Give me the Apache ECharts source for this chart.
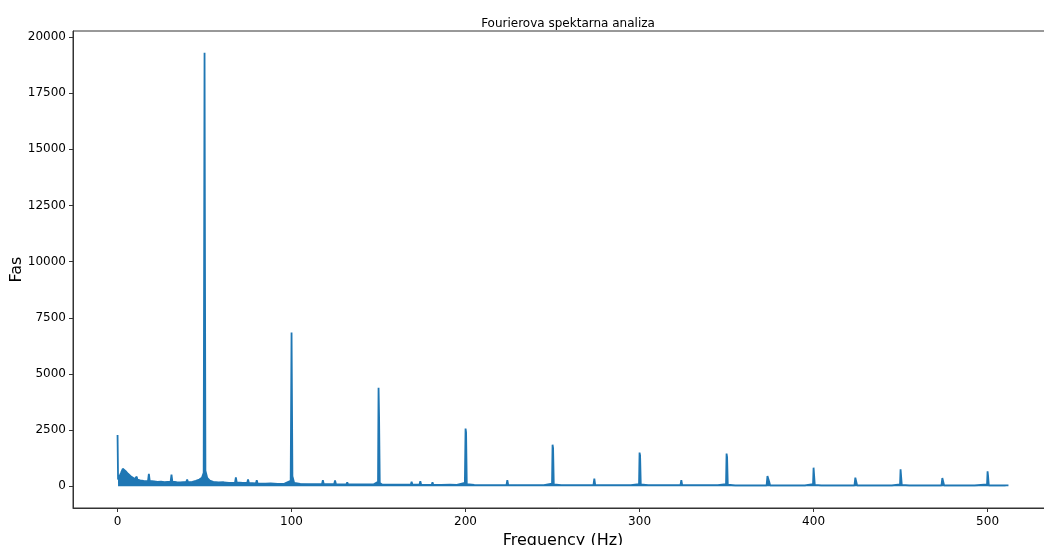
<!DOCTYPE html>
<html>
<head>
<meta charset="utf-8">
<script src="https://cdn.jsdelivr.net/npm/echarts@6/dist/echarts.min.js"></script>
<style>
html,body{margin:0;padding:0;background:#fff;overflow:hidden;}
#chart{width:1044px;height:545px;}
</style>
</head>
<body>
<div id="chart"></div>
<script>
// Frequencies (Hz) and spectral amplitudes (Fas)
const freqs = [
  0, 0.3, 1, 2, 3, 4, 5, 6, 7, 8, 9, 10, 10.6, 11, 11.4, 13, 15, 17.5, 18, 18.5, 21, 23, 25, 27, 30.5, 31, 31.5, 34, 36, 39.5, 40, 40.5, 43, 45, 47, 48.5, 49.5,
  50, 50.5, 51.5, 53, 55, 58, 61, 64, 67.5, 68, 68.5, 72, 74.5, 75, 75.5, 79.5, 80, 80.5, 85, 88, 92, 96, 99.5,
  100, 100.5, 101.5, 105, 110, 117.5, 118, 118.5, 122, 124.5, 125, 125.5, 131.5, 132, 132.5, 138, 143, 147, 149.7,
  150, 150.3, 150.7, 152, 157, 162, 168.5, 169, 169.5, 173.5, 174, 174.5, 180.5, 181, 181.5, 186, 191, 195, 199.6,
  200, 200.3, 200.7, 205, 210, 218.5, 219, 219.5, 223.5, 224, 224.5, 230, 235, 240, 245, 249.7,
  250, 250.3, 250.7, 255, 260, 268.5, 269, 269.5, 273.5, 274, 274.5, 280, 285, 290, 295, 299.7,
  300, 300.3, 300.7, 305, 310, 318.5, 319, 319.5, 323.5, 324, 324.5, 330, 335, 340, 345, 349.7,
  350, 350.3, 350.7, 355, 360, 368.5, 369, 369.5, 373, 373.5, 374.5, 375, 381, 381.5, 382, 386, 391, 395, 399.7,
  400, 400.3, 400.7, 404.5, 405, 405.5, 410, 415, 418.5, 419, 419.5, 423.5, 424, 424.6, 425, 430, 435, 440, 445, 449.7,
  450, 450.3, 450.7, 455, 460, 468.5, 469, 469.5, 473.5, 474, 474.6, 475, 480, 485, 490, 492.5, 493, 493.5, 499.7,
  500, 500.3, 500.7, 504.5, 505, 505.5, 510, 512
];
const amps = [
  2280, 300, 350, 600, 780, 720, 650, 560, 480, 420, 380, 330, 330, 430, 300, 260, 240, 230, 560, 240, 220, 200, 210, 190, 210, 520, 210, 190, 180, 200, 300, 190, 200, 240, 300, 380, 600,
  19300, 700, 380, 250, 200, 170, 180, 150, 160, 400, 170, 150, 150, 310, 150, 130, 270, 130, 120, 130, 110, 120, 250,
  6850, 450, 150, 110, 100, 100, 270, 100, 100, 100, 260, 100, 90, 180, 90, 80, 90, 80, 200,
  4390, 3080, 150, 80, 70, 70, 70, 200, 70, 70, 230, 70, 60, 180, 60, 60, 70, 60, 150,
  2570, 2400, 100, 60, 55, 55, 140, 55, 55, 270, 60, 55, 55, 55, 55, 120,
  1855, 1700, 90, 55, 50, 50, 120, 50, 50, 340, 60, 50, 50, 50, 50, 100,
  1500, 1380, 80, 50, 50, 50, 110, 50, 50, 280, 50, 50, 50, 50, 50, 100,
  1455, 1300, 70, 45, 45, 45, 90, 45, 45, 460, 200, 45, 45, 120, 45, 45, 45, 45, 100,
  830, 780, 60, 45, 90, 45, 45, 45, 45, 110, 45, 45, 385, 350, 45, 45, 45, 45, 45, 90,
  755, 700, 60, 45, 45, 45, 80, 45, 45, 370, 330, 45, 40, 40, 40, 40, 90, 40, 80,
  670, 450, 40, 40, 80, 40, 40, 40
];
const xTicks = [0, 100, 200, 300, 400, 500];
const yTicks = [0, 2500, 5000, 7500, 10000, 12500, 15000, 17500, 20000];

const seriesData = freqs.map((f, i) => [f, amps[i]]);
const col = '#1f77b4';
const axisCol = '#333333';
const font = 'DejaVu Sans';

const chart = echarts.init(document.getElementById('chart'));
chart.setOption({
  animation: false,
  backgroundColor: '#ffffff',
  title: {
    text: 'Fourierova spektarna analiza',
    left: 563, top: 13, textAlign: 'center',
    textStyle: {fontFamily: font, fontSize: 12, fontWeight: 'normal', color: '#000'}
  },
  grid: {left: 73, top: 31, width: 980, height: 477, containLabel: false, outerBoundsMode: 'none',
         show: true, borderColor: axisCol, borderWidth: 1},
  xAxis: {
    type: 'value', min: -25.6, max: 537.6,
    name: 'Frequency (Hz)', nameLocation: 'middle', nameGap: 25, nameMoveOverlap: false,
    nameTextStyle: {fontFamily: font, fontSize: 16, color: '#000'},
    axisLine: {show: true, onZero: false, lineStyle: {color: axisCol, width: 1}},
    axisTick: {show: true, length: 4, customValues: xTicks, lineStyle: {color: axisCol}},
    axisLabel: {fontFamily: font, fontSize: 12, color: '#000', margin: 8, customValues: xTicks,
                formatter: v => String(v)},
    splitLine: {show: false}
  },
  yAxis: {
    type: 'value', min: -965, max: 20265,
    name: 'Fas', nameLocation: 'middle', nameGap: 48, nameRotate: 90, nameMoveOverlap: false,
    nameTextStyle: {fontFamily: font, fontSize: 16, color: '#000'},
    axisLine: {show: true, onZero: false, lineStyle: {color: axisCol, width: 1}},
    axisTick: {show: true, length: 4, customValues: yTicks, lineStyle: {color: axisCol}},
    axisLabel: {fontFamily: font, fontSize: 12, color: '#000', margin: 7, customValues: yTicks,
                formatter: v => String(v)},
    splitLine: {show: false}
  },
  series: [{
    type: 'line', data: seriesData, showSymbol: false, symbol: 'none',
    lineStyle: {color: col, width: 1.8},
    areaStyle: {color: col, opacity: 1, origin: 0},
    itemStyle: {color: col}
  }]
});
</script>
</body>
</html>
